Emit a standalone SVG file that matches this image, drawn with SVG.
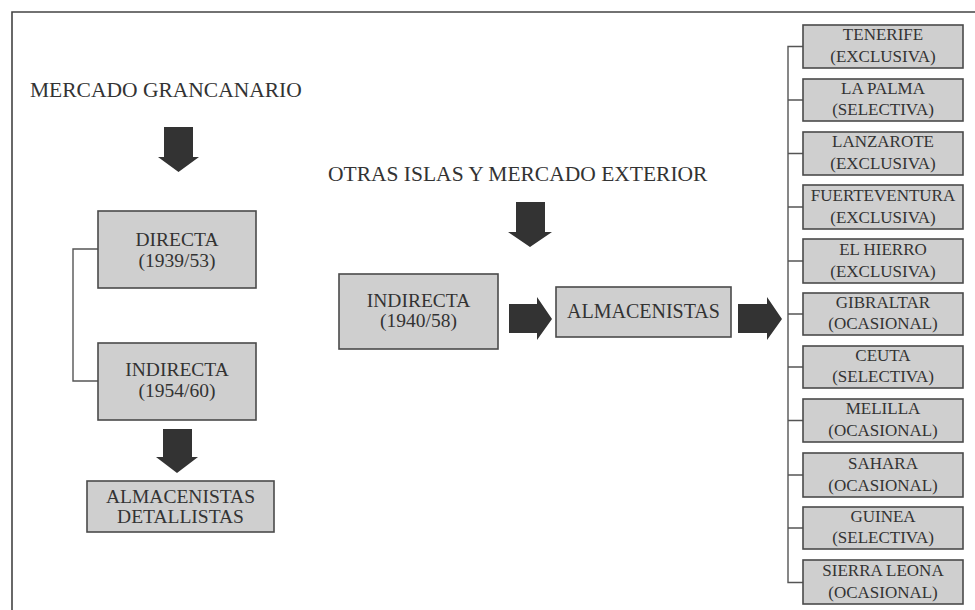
<svg xmlns="http://www.w3.org/2000/svg" width="975" height="610" viewBox="0 0 975 610">
<style>
.box{fill:#cfcfcf;stroke:#4a4a4a;stroke-width:1.6}
.t{font-family:"Liberation Serif","Times New Roman",serif;fill:#333;text-anchor:middle}
.big{font-size:19.5px}
.sm{font-size:17px}
.hd{font-family:"Liberation Serif","Times New Roman",serif;fill:#333;font-size:21.5px}
.arr{fill:#333}
.ln{fill:none;stroke:#555;stroke-width:1.4}
</style>
<rect width="975" height="610" fill="#fff"/>
<g id="frame"><path d="M12 610 V12 H975" fill="none" stroke="#444" stroke-width="1.6"/></g>
<g id="labels">
<text class="hd" x="30" y="97">MERCADO GRANCANARIO</text>
<text class="hd" x="328" y="181">OTRAS ISLAS Y MERCADO EXTERIOR</text>
</g>
<g id="connectors">
<path class="ln" d="M98 249 H73 V381 H98"/>
<path class="ln" d="M803 46.5 H788 V582.5 H803"/>
<path class="ln" d="M788 100 H803 M788 153.5 H803 M788 207 H803 M788 261 H803 M788 314 H803 M788 367 H803 M788 420.5 H803 M788 475 H803 M788 528 H803"/>
<polygon class="arr" points="164,127 193,127 193,157 199,157 178.5,172 158,157 164,157"/>
<polygon class="arr" points="163,429 192,429 192,457 198,457 177,473 156,457 163,457"/>
<polygon class="arr" points="516,202 545,202 545,232 552,232 530,247 508,232 516,232"/>
<polygon class="arr" points="509,304 537,304 537,297 552,319 537,340 537,333 509,333"/>
<polygon class="arr" points="738,304 767,304 767,297 782,319 767,340 767,333 738,333"/>
</g>
<g id="directa"><rect class="box" x="98" y="211" width="158" height="77"/>
<text class="t big" x="177" y="246">DIRECTA</text><text class="t big" x="177" y="267">(1939/53)</text></g>
<g id="indirecta1"><rect class="box" x="98" y="343" width="158" height="77"/>
<text class="t big" x="177" y="376">INDIRECTA</text><text class="t big" x="177" y="397">(1954/60)</text></g>
<g id="almdet"><rect class="box" x="87" y="481" width="187" height="51"/>
<text class="t big" x="180.5" y="503">ALMACENISTAS</text><text class="t big" x="180.5" y="523">DETALLISTAS</text></g>
<g id="indirecta2"><rect class="box" x="339" y="274" width="159" height="75"/>
<text class="t big" x="418.5" y="307">INDIRECTA</text><text class="t big" x="418.5" y="327">(1940/58)</text></g>
<g id="almacenistas"><rect class="box" x="556" y="287" width="175" height="50"/>
<text class="t" style="font-size:20px" x="643.5" y="318">ALMACENISTAS</text></g>
<g id="tenerife"><rect class="box" x="803" y="25" width="160" height="43"/>
<text class="t sm" x="883" y="40">TENERIFE</text><text class="t sm" x="883" y="62">(EXCLUSIVA)</text></g>
<g id="lapalma"><rect class="box" x="803" y="79" width="160" height="42"/>
<text class="t sm" x="883" y="94">LA PALMA</text><text class="t sm" x="883" y="115">(SELECTIVA)</text></g>
<g id="lanzarote"><rect class="box" x="803" y="132" width="160" height="43"/>
<text class="t sm" x="883" y="147">LANZAROTE</text><text class="t sm" x="883" y="169">(EXCLUSIVA)</text></g>
<g id="fuerteventura"><rect class="box" x="803" y="185" width="160" height="44"/>
<text class="t sm" x="883" y="201">FUERTEVENTURA</text><text class="t sm" x="883" y="223">(EXCLUSIVA)</text></g>
<g id="elhierro"><rect class="box" x="803" y="239" width="160" height="44"/>
<text class="t sm" x="883" y="255">EL HIERRO</text><text class="t sm" x="883" y="277">(EXCLUSIVA)</text></g>
<g id="gibraltar"><rect class="box" x="803" y="293" width="160" height="42"/>
<text class="t sm" x="883" y="308">GIBRALTAR</text><text class="t sm" x="883" y="329">(OCASIONAL)</text></g>
<g id="ceuta"><rect class="box" x="803" y="346" width="160" height="42"/>
<text class="t sm" x="883" y="361">CEUTA</text><text class="t sm" x="883" y="382">(SELECTIVA)</text></g>
<g id="melilla"><rect class="box" x="803" y="399" width="160" height="43"/>
<text class="t sm" x="883" y="414">MELILLA</text><text class="t sm" x="883" y="436">(OCASIONAL)</text></g>
<g id="sahara"><rect class="box" x="803" y="453" width="160" height="44"/>
<text class="t sm" x="883" y="469">SAHARA</text><text class="t sm" x="883" y="491">(OCASIONAL)</text></g>
<g id="guinea"><rect class="box" x="803" y="507" width="160" height="42"/>
<text class="t sm" x="883" y="522">GUINEA</text><text class="t sm" x="883" y="543">(SELECTIVA)</text></g>
<g id="sierraleona"><rect class="box" x="803" y="560" width="160" height="44"/>
<text class="t sm" x="883" y="576">SIERRA LEONA</text><text class="t sm" x="883" y="598">(OCASIONAL)</text></g>
</svg>
